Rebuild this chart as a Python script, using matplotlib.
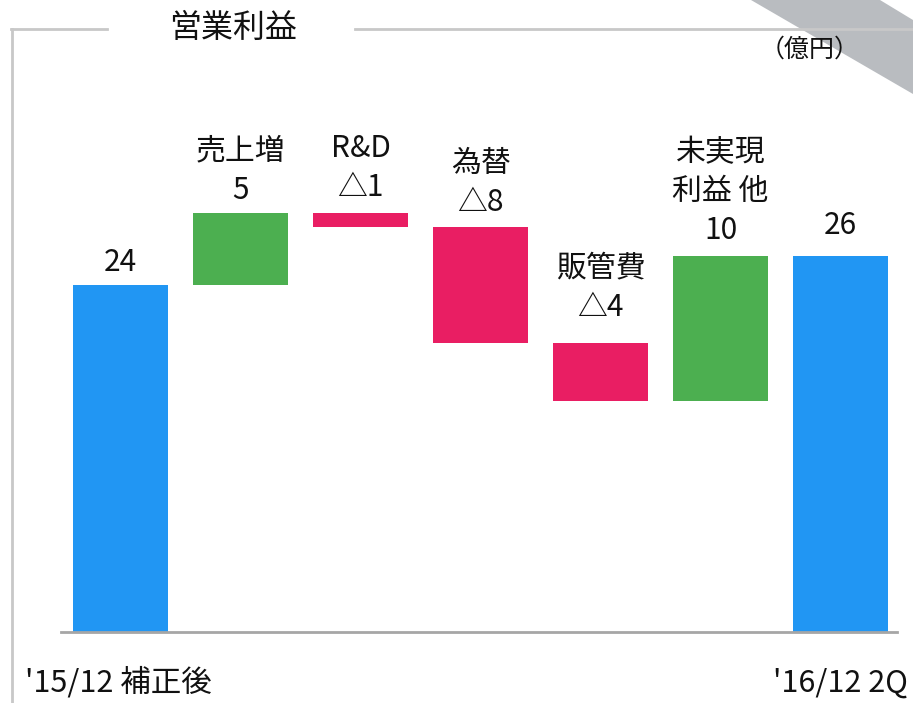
import matplotlib.pyplot as plt
from matplotlib.patches import Polygon
from matplotlib.lines import Line2D

plt.rcParams['font.family'] = ['Noto Sans CJK JP', 'DejaVu Sans']

# データ（億円）
labels = ["'15/12 補正後", "売上増", "R&D", "為替", "販管費", "未実現\n利益 他", "'16/12 2Q"]
values = [24, 5, -1, -8, -4, 10, 26]
kinds = ["total", "step", "step", "step", "step", "step", "total"]
value_texts = ["24", "5", "△1", "△8", "△4", "10", "26"]

blue = "#2196F3"
green = "#4CAF50"
pink = "#E91E63"

fig = plt.figure(figsize=(9.13, 7.03), dpi=100)
ax = fig.add_axes([0, 0, 1, 1])
ax.set_xlim(-1.004, 6.604)
ax.set_ylim(-4.91, 43.7)
ax.axis("off")

# ウォーターフォールの下端と高さを計算
bottoms = []
heights = []
colors = []
run = 0
for v, k in zip(values, kinds):
    if k == "total":
        bottoms.append(0)
        heights.append(v)
        colors.append(blue)
        run = v
    else:
        if v >= 0:
            bottoms.append(run)
            colors.append(green)
        else:
            bottoms.append(run + v)
            colors.append(pink)
        heights.append(abs(v))
        run += v

xs = list(range(len(values)))
ax.bar(xs, heights, bottom=bottoms, width=0.79, color=colors)

# ベースライン
ax.axhline(0, xmin=0.067, xmax=0.982, color="#a6a6a6", lw=2)

# 棒の上のラベル
offsets = [7, 7, 10, 9, 20, 10, 15]
for i in xs:
    top = bottoms[i] + heights[i]
    if kinds[i] == "total":
        txt = value_texts[i]
    else:
        txt = labels[i] + "\n" + value_texts[i]
    ax.annotate(txt, (xs[i], top), xytext=(0, offsets[i]), textcoords="offset pixels",
                ha="center", va="bottom", fontsize=21.5, linespacing=1.33, color="#111111")

# 下のラベル
fig.text(25 / 913, 1 - 683 / 703, labels[0], ha="left", va="center", fontsize=22, color="#111111")
fig.text(908 / 913, 1 - 683 / 703, labels[-1], ha="right", va="center", fontsize=22, color="#111111")

# 枠線とタイトル
W, H = 913, 703
def fx(p):
    return p / W
def fy(p):
    return 1 - p / H

frame = "#c8c8c8"
fig.add_artist(Line2D([fx(12), fx(12)], [fy(29), 0], transform=fig.transFigure, color=frame, lw=2))
fig.add_artist(Line2D([fx(11), fx(107)], [fy(29), fy(29)], transform=fig.transFigure, color=frame, lw=2))
fig.add_artist(Line2D([fx(355), 1], [fy(29), fy(29)], transform=fig.transFigure, color=frame, lw=2))

band = Polygon([[fx(751), 1], [fx(880), 1], [1, fy(20)], [1, fy(94)]], closed=True,
               transform=fig.transFigure, facecolor="#b9bcc0", edgecolor="none")
fig.add_artist(band)

fig.text(fx(233), fy(28), "営業利益", ha="center", va="center", fontsize=23, color="#111111")
fig.text(fx(810), fy(50), "（億円）", ha="center", va="center", fontsize=18, color="#111111")

fig.savefig("out.png", dpi=100)
